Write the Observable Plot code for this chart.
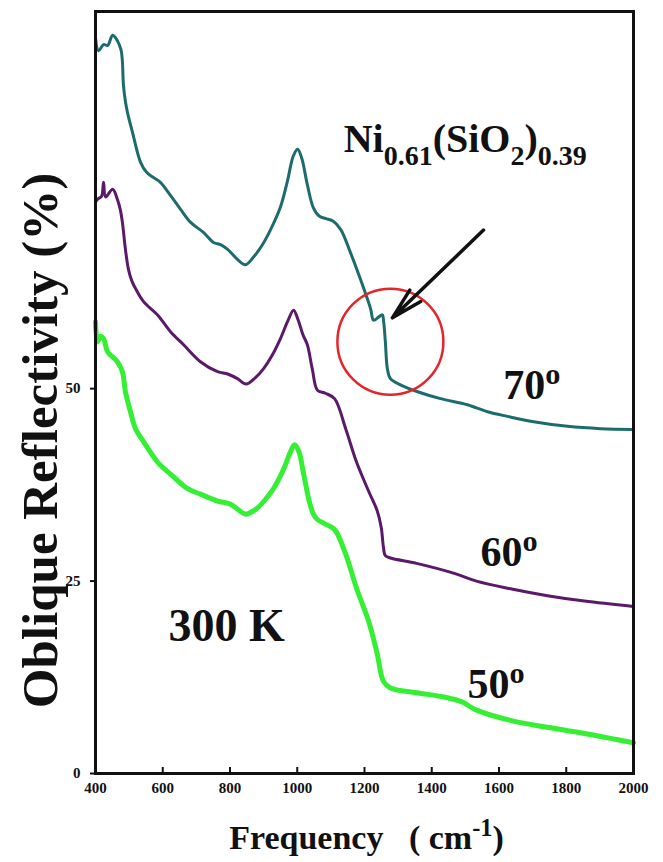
<!DOCTYPE html>
<html>
<head>
<meta charset="utf-8">
<script src="https://cdn.jsdelivr.net/npm/d3@7"></script>
<script src="https://cdn.jsdelivr.net/npm/@observablehq/plot@0.6"></script>
<style>
  html, body { margin: 0; padding: 0; background: white; }
  #chart svg { display: block; }
</style>
</head>
<body>
<div id="chart"></div>
<script>
// ---- data ----
const xTicks = [400, 600, 800, 1000, 1200, 1400, 1600, 1800, 2000];
const yTicks = [0, 25, 50];

// 70° curve
const freq70 = [400, 409, 424, 436, 451, 465, 476, 480, 483, 489, 495, 510, 534, 552, 570, 593, 623, 653, 683, 721, 751, 772, 793, 822, 846, 870, 895, 920, 950, 971, 988, 1001, 1013, 1030, 1048, 1066, 1085, 1105, 1129, 1158, 1188, 1218, 1227, 1242, 1253, 1257, 1262, 1268, 1277, 1307, 1358, 1426, 1506, 1566, 1625, 1703, 1804, 1902, 2000];
const refl70 = [95.6, 93.9, 94.7, 94.6, 95.9, 95.2, 94.0, 92.5, 89.5, 87.3, 85.9, 83.3, 79.4, 78.1, 77.5, 76.8, 75.1, 73.3, 71.6, 70.3, 69.0, 68.7, 68.1, 66.8, 66.1, 67.1, 68.6, 70.6, 73.6, 77.0, 80.2, 81.1, 80.0, 76.5, 73.5, 72.4, 72.1, 71.8, 70.7, 67.7, 64.2, 60.4, 58.9, 59.3, 59.6, 58.7, 56.1, 52.6, 51.3, 50.5, 49.6, 48.7, 47.9, 47.0, 46.4, 45.7, 45.1, 44.8, 44.7];

// 60° curve
const freq60 = [400, 406, 418, 424, 430, 451, 465, 474, 480, 489, 498, 508, 519, 543, 584, 623, 662, 712, 763, 793, 822, 848, 875, 900, 925, 950, 972, 989, 1002, 1017, 1030, 1045, 1060, 1084, 1111, 1144, 1176, 1212, 1238, 1250, 1256, 1262, 1277, 1355, 1467, 1533, 1634, 1744, 1854, 2000];
const refl60 = [74.2, 74.6, 75.0, 76.8, 74.9, 75.9, 74.6, 73.2, 71.6, 68.1, 65.5, 64.0, 63.0, 61.3, 59.6, 57.4, 55.7, 53.5, 52.2, 51.9, 51.3, 50.6, 51.4, 52.6, 54.3, 56.5, 58.8, 60.2, 59.0, 57.0, 55.7, 52.5, 49.8, 49.4, 48.7, 44.8, 40.5, 36.7, 34.1, 31.9, 29.5, 28.3, 28.0, 27.3, 26.0, 25.0, 24.0, 23.1, 22.4, 21.7];

// 50° curve
const freq50 = [400, 406, 415, 424, 436, 465, 480, 489, 504, 519, 543, 584, 623, 674, 712, 763, 801, 846, 865, 882, 905, 929, 960, 978, 992, 1005, 1019, 1035, 1048, 1060, 1084, 1111, 1144, 1176, 1212, 1238, 1256, 1277, 1355, 1440, 1490, 1530, 1634, 1744, 1854, 2000];
const refl50 = [58.7, 56.1, 56.8, 56.5, 54.8, 53.5, 52.2, 49.6, 47.0, 44.8, 43.1, 40.5, 38.9, 37.0, 36.3, 35.4, 35.0, 33.7, 34.0, 34.5, 35.6, 37.0, 39.6, 41.6, 42.7, 41.8, 38.9, 35.5, 33.7, 33.0, 32.4, 31.7, 28.5, 24.1, 19.8, 15.5, 12.0, 11.1, 10.5, 9.9, 9.3, 8.3, 6.9, 6.0, 5.2, 4.0];

const angleLabels = ["70^{o}", "60^{o}", "50^{o}"];
const angleLabelX = [1613, 1545, 1506];
const angleLabelY = [48.7, 26.9, 9.8];

const materialLabel = "Ni_{0.61}(SiO_{2})_{0.39}";
const materialX = 1138, materialY = 80.7;
const tempLabel = "300 K";
const tempX = 617, tempY = 17.2;

// red circle highlighting the kink, and the arrow pointing at it
const circleX = 1277, circleY = 56.1;
const arrowFrom = [1554, 70.6];
const arrowTo = [1283, 59.2];

const xLabel = "Frequency\u00A0\u00A0\u00A0(\u00A0cm^{-1})";
const yLabel = "Oblique Reflectivity (%)";

// ---- build tables ----
const toRows = (xs, ys) => xs.map((x, i) => ({x, y: ys[i]}));
const s70 = toRows(freq70, refl70);
const s60 = toRows(freq60, refl60);
const s50 = toRows(freq50, refl50);
const angleRows = angleLabels.map((t, i) => ({text: t, x: angleLabelX[i], y: angleLabelY[i]}));

const teal = "#1d6c6d", purple = "#5b1a69", green = "#35ef35";
const serif = "'Liberation Serif', 'Times New Roman', Times, serif";

const chart = Plot.plot({
  width: 663,
  height: 862,
  marginLeft: 95,
  marginRight: 30,
  marginTop: 11,
  marginBottom: 89,
  style: {fontFamily: serif, fontWeight: "bold", background: "white", color: "#111"},
  x: {domain: [400, 2000]},
  y: {domain: [0, 99]},
  marks: [
    Plot.axisX({ticks: xTicks, tickSize: 0, tickPadding: 9, fontSize: 15, tickFormat: d => String(d), label: null}),
    Plot.tickX(xTicks, {x: d => d, insetTop: 756, stroke: "#111", strokeWidth: 2}),
    Plot.axisY({ticks: yTicks, tickSize: 5, tickPadding: 10, fontSize: 15, tickFormat: d => String(d), label: null, strokeWidth: 2}),
    Plot.line(s70, {x: "x", y: "y", stroke: teal, strokeWidth: 3, curve: "catmull-rom"}),
    Plot.line(s60, {x: "x", y: "y", stroke: purple, strokeWidth: 3, curve: "catmull-rom"}),
    Plot.line(s50, {x: "x", y: "y", stroke: green, strokeWidth: 5, curve: "catmull-rom"}),
    Plot.dot([{x: circleX, y: circleY}], {x: "x", y: "y", r: 53, stroke: "#e3262b", strokeWidth: 2.5, fill: "none"}),
    Plot.arrow([{x1: arrowFrom[0], y1: arrowFrom[1], x2: arrowTo[0], y2: arrowTo[1]}], {x1: "x1", y1: "y1", x2: "x2", y2: "y2", stroke: "#111", strokeWidth: 3.5, headLength: 14, headAngle: 28}),
    Plot.text(angleRows, {x: "x", y: "y", text: "text", fontSize: 42, textAnchor: "start", lineAnchor: "bottom", fill: "#111"}),
    Plot.text([materialLabel], {x: () => materialX, y: () => materialY, text: d => d, fontSize: 40, textAnchor: "start", lineAnchor: "bottom", fill: "#111"}),
    Plot.text([tempLabel], {x: () => tempX, y: () => tempY, text: d => d, fontSize: 46, textAnchor: "start", lineAnchor: "bottom", fill: "#111"}),
    Plot.text([yLabel], {frameAnchor: "left", text: d => d, rotate: -90, dx: -55, dy: 48, fontSize: 51, textAnchor: "middle", fill: "#111"}),
    Plot.text([xLabel], {frameAnchor: "bottom", text: d => d, dx: 2, dy: 75, fontSize: 34, lineAnchor: "bottom", textAnchor: "middle", fill: "#111"}),
    Plot.frame({stroke: "#111", strokeWidth: 3})
  ]
});

document.getElementById("chart").appendChild(chart);

// turn _{...} and ^{...} markup into real sub/superscript tspans
const svgNS = "http://www.w3.org/2000/svg";
chart.querySelectorAll("text").forEach(t => {
  const s = t.textContent;
  if (!/[_^]\{/.test(s)) return;
  const fs = parseFloat(getComputedStyle(t).fontSize) || 16;
  const re = /([_^])\{([^}]*)\}|([^_^]+)/g;
  let m, offset = 0;
  while (t.firstChild) t.removeChild(t.firstChild);
  while ((m = re.exec(s))) {
    const ts = document.createElementNS(svgNS, "tspan");
    let target = 0;
    if (m[1] === "_") { target = fs * 0.32; ts.setAttribute("font-size", fs * 0.7); ts.textContent = m[2]; }
    else if (m[1] === "^") { target = -fs * 0.36; ts.setAttribute("font-size", fs * 0.72); ts.textContent = m[2]; }
    else { target = 0; ts.textContent = m[3]; }
    const d = target - offset;
    if (d !== 0) ts.setAttribute("dy", d);
    offset = target;
    t.appendChild(ts);
  }
});
</script>
</body>
</html>
